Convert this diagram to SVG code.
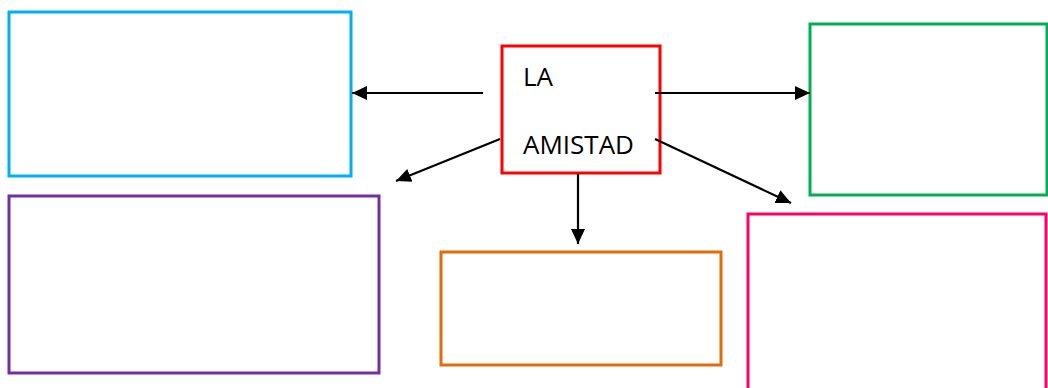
<svg xmlns="http://www.w3.org/2000/svg" width="1048" height="388" viewBox="0 0 1048 388">
<style>
.box{fill:#fff;stroke-width:3}
.conn{stroke:#000;stroke-width:2.2;fill:none;marker-end:url(#ah)}
.lbl{font-family:"Open Sans","Liberation Sans",sans-serif;font-size:26px;fill:#000}
</style>
<defs>
<marker id="ah" markerUnits="userSpaceOnUse" markerWidth="16" markerHeight="16" viewBox="0 0 16 16" refX="15" refY="8" orient="auto">
<path d="M0,1 L15,8 L0,15 Z" fill="#000"/>
</marker>
</defs>
<rect width="1048" height="388" fill="#fff"/>
<g id="blue"><rect class="box" x="9" y="12" width="342" height="164" stroke="#00B0F0"/></g>
<g id="purple"><rect class="box" x="9" y="196" width="370" height="177" stroke="#7030A0"/></g>
<g id="green"><rect class="box" x="810" y="24" width="237" height="171" stroke="#00B050"/></g>
<g id="pink"><rect class="box" x="748" y="214" width="298" height="180" stroke="#FF0066"/></g>
<g id="orange"><rect class="box" x="441" y="252" width="280" height="113" stroke="#E36C09"/></g>
<g id="center"><rect class="box" x="502" y="46" width="158" height="127" stroke="#FF0000"/>
<text class="lbl" x="523" y="86">LA</text>
<text class="lbl" x="523" y="154">AMISTAD</text></g>
<g id="connectors">
<line class="conn" x1="483" y1="93" x2="352" y2="93"/>
<line class="conn" x1="655" y1="93" x2="810" y2="93"/>
<line class="conn" x1="500" y1="139" x2="396" y2="181"/>
<line class="conn" x1="578" y1="174" x2="578" y2="244"/>
<line class="conn" x1="655" y1="139" x2="791" y2="203"/>
</g>
</svg>
